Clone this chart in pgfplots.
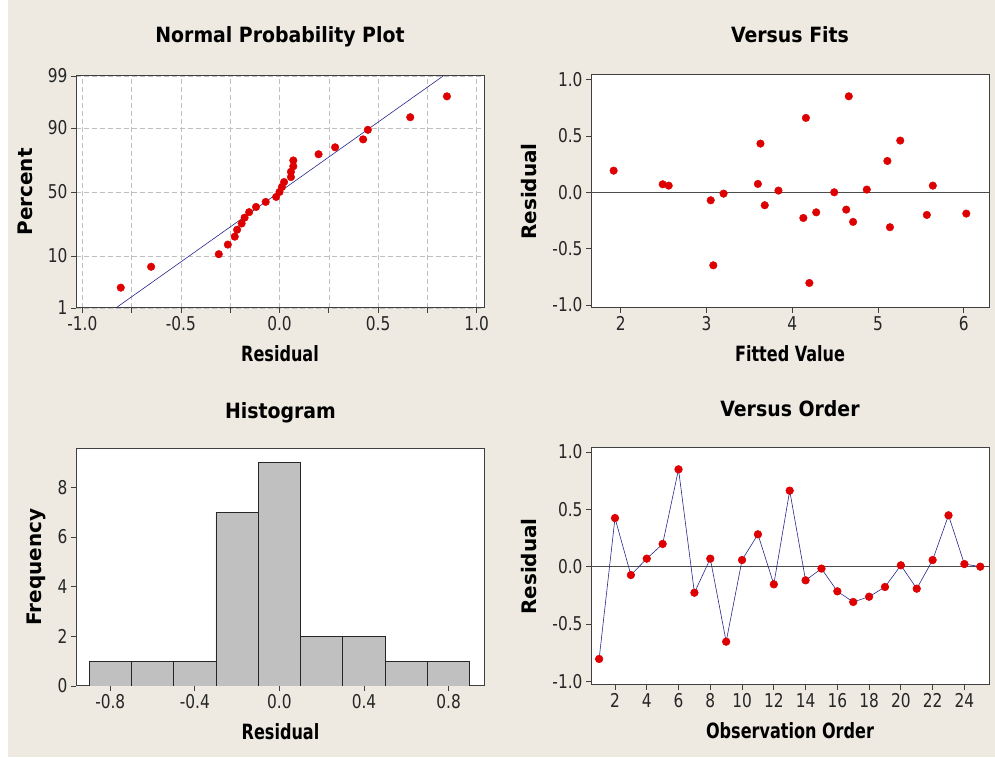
\documentclass[border=0pt]{standalone}
\usepackage{fontspec}
\setmainfont{DejaVu Sans Condensed}
\newfontfamily\tickfont[FakeStretch=0.9]{DejaVu Sans Condensed}
\newfontfamily\condbold{DejaVu Sans Condensed Bold}
\newfontfamily\labbold[FakeStretch=0.85]{DejaVu Sans Condensed Bold}
\newfontfamily\ylabfont{DejaVu Sans Bold}
\usepackage{pgfplots}
\pgfplotsset{compat=1.18}
\definecolor{bgc}{RGB}{238,234,225}
\definecolor{mred}{RGB}{222,0,0}
\definecolor{lineblue}{RGB}{40,40,140}
\definecolor{histgray}{RGB}{192,192,192}
\pgfplotsset{
  minitab/.style={
    scale only axis, anchor=south west,
    axis background/.style={fill=white},
    axis line style={black!75, line width=1pt},
    tick align=outside, major tick length=5pt, minor tick length=5pt,
    tick pos=left,
    tick style={black!75, line width=0.8pt},
    tick label style={font=\tickfont\fontsize{19}{19}\selectfont, text=black!85},
    /pgf/number format/assume math mode=true,
    title style={font=\condbold\fontsize{21}{21}\selectfont, at={(axis description cs:0.5,1)}, anchor=base},
    xlabel style={font=\labbold\fontsize{21}{21}\selectfont, at={(axis description cs:0.5,0)}, anchor=center, yshift=-46pt},
    ylabel style={font=\ylabfont\fontsize{20}{20}\selectfont, anchor=center},
    pts/.style={only marks, mark=*, mark size=3.8pt, mark options={fill=mred, draw=mred}},
  }
}
\begin{document}
\begin{tikzpicture}[x=1pt,y=1pt]
\fill[white] (0,0) rectangle (995,757);
\fill[bgc] (8,0) rectangle (995,757);
\useasboundingbox (0,0) rectangle (995,757);

% Normal probability plot
\begin{axis}[minitab, at={(76pt,449pt)}, width=408pt, height=232pt,
  xmin=-1.032, xmax=1.037, ymin=-2.326, ymax=2.326,
  xtick={-1,-0.5,0,0.5,1}, xticklabels={-1.0,-0.5,0.0,0.5,1.0},
  minor xtick={-0.75,-0.25,0.25,0.75},
  ytick={-2.326,-1.2816,0,1.2816,2.326}, yticklabels={1,10,50,90,99},
  grid=both, grid style={gray!50, dash pattern=on 5pt off 3pt, line width=0.6pt},
  minor grid style={gray!50, dash pattern=on 5pt off 3pt, line width=0.6pt},
  title={Normal Probability Plot}, xlabel={Residual}, ylabel={Percent},
  title style={yshift=27pt},
  ylabel style={at={(axis description cs:-0.125,0.5)}}]
\addplot[lineblue, line width=0.6pt] coordinates {(-0.83,-2.326) (0.83,2.326)};
\addplot[pts] coordinates {
(-0.805,-1.918) (-0.651,-1.499) (-0.308,-1.247) (-0.262,-1.055) (-0.227,-0.896)
(-0.215,-0.757) (-0.192,-0.632) (-0.177,-0.515) (-0.154,-0.405) (-0.119,-0.300)
(-0.070,-0.199) (-0.017,-0.099) (0.000,0.000) (0.012,0.099) (0.023,0.199)
(0.058,0.300) (0.058,0.405) (0.070,0.515) (0.070,0.632) (0.198,0.757)
(0.282,0.896) (0.424,1.055) (0.448,1.247) (0.663,1.499) (0.849,1.918)};
\end{axis}

% Versus fits
\begin{axis}[minitab, at={(591pt,449pt)}, width=398pt, height=233pt,
  xmin=1.654, xmax=6.295, ymin=-1.027, ymax=1.041,
  xtick={2,3,4,5,6},
  ytick={-1,-0.5,0,0.5,1}, yticklabels={-1.0,-0.5,0.0,0.5,1.0},
  title={Versus Fits}, xlabel={Fitted Value}, ylabel={Residual},
  title style={yshift=26pt},
  ylabel style={at={(axis description cs:-0.156,0.5)}}]
\addplot[black!70, line width=0.8pt] coordinates {(1.654,0) (6.295,0)};
\addplot[pts] coordinates {
(1.918,0.192) (2.49,0.071) (2.56,0.059) (3.05,-0.071) (3.08,-0.648) (3.20,-0.012)
(3.60,0.074) (3.63,0.432) (3.68,-0.115) (3.84,0.015) (4.13,-0.228) (4.16,0.66)
(4.20,-0.805) (4.28,-0.178) (4.49,0.0) (4.63,-0.154) (4.66,0.852) (4.71,-0.263)
(4.87,0.024) (5.11,0.278) (5.14,-0.31) (5.26,0.459) (5.57,-0.201) (5.64,0.059)
(6.03,-0.189)};
\end{axis}

% Histogram
\begin{axis}[minitab, at={(76pt,71pt)}, width=409pt, height=238pt,
  xmin=-0.962, xmax=0.972, ymin=0, ymax=9.58,
  xtick={-0.8,-0.4,0,0.4,0.8}, xticklabels={-0.8,-0.4,0.0,0.4,0.8},
  ytick={0,2,4,6,8},
  title={Histogram}, xlabel={Residual}, ylabel={Frequency},
  title style={yshift=24pt},
  ylabel style={at={(axis description cs:-0.098,0.5)}}]
\addplot[ybar interval, fill=histgray, draw=black!85, line width=0.8pt] coordinates {
(-0.9,1) (-0.7,1) (-0.5,1) (-0.3,7) (-0.1,9) (0.1,2) (0.3,2) (0.5,1) (0.7,1) (0.9,1)};
\end{axis}

% Versus order
\begin{axis}[minitab, at={(591pt,72pt)}, width=398pt, height=237pt,
  xmin=0.489, xmax=25.55, ymin=-1.032, ymax=1.035,
  xtick={2,4,...,24},
  ytick={-1,-0.5,0,0.5,1}, yticklabels={-1.0,-0.5,0.0,0.5,1.0},
  title={Versus Order}, xlabel={Observation Order}, ylabel={Residual},
  title style={yshift=25pt},
  ylabel style={at={(axis description cs:-0.156,0.5)}}]
\addplot[black!70, line width=0.8pt] coordinates {(0.489,0) (25.55,0)};
\addplot[lineblue, line width=0.6pt, mark=*, mark size=3.8pt, mark options={fill=mred, draw=mred}] coordinates {
(1,-0.805) (2,0.424) (3,-0.073) (4,0.070) (5,0.198) (6,0.849) (7,-0.227) (8,0.070)
(9,-0.654) (10,0.058) (11,0.282) (12,-0.154) (13,0.663) (14,-0.119) (15,-0.017)
(16,-0.215) (17,-0.308) (18,-0.262) (19,-0.177) (20,0.012) (21,-0.192) (22,0.058)
(23,0.448) (24,0.023) (25,0.000)};
\end{axis}
\end{tikzpicture}
\end{document}
